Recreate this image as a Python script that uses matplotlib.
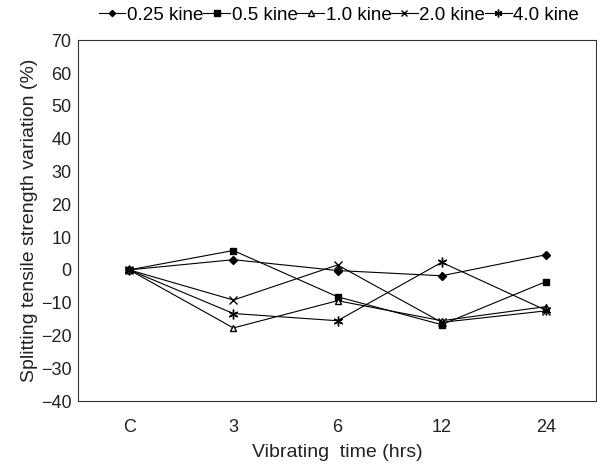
import matplotlib
matplotlib.use("Agg")
import matplotlib.pyplot as plt

plt.rcParams["font.family"] = ["Liberation Sans", "DejaVu Sans"]

# vibrating time categories
categories = ["C", "3", "6", "12", "24"]

# splitting tensile strength variation (%) per vibration level
kine_025 = [0.0, 3.1, -0.2, -1.8, 4.6]
kine_05 = [0.0, 5.9, -8.2, -16.7, -3.6]
kine_10 = [0.0, -17.7, -9.4, -15.5, -11.2]
kine_20 = [0.0, -9.2, 1.5, -16.0, -12.5]
kine_40 = [0.0, -13.3, -15.5, 2.3, -12.3]

labels = ["0.25 kine", "0.5 kine", "1.0 kine", "2.0 kine", "4.0 kine"]

fig = plt.figure(figsize=(5.97, 4.73), dpi=100)
ax = fig.add_axes([0.131, 0.152, 0.867, 0.763])

x = list(range(len(categories)))
styles = [
    dict(marker="D", ms=4, mfc="black"),
    dict(marker="s", ms=5, mfc="black"),
    dict(marker="^", ms=5, mfc="white"),
    dict(marker="x", ms=6, mew=1.0),
    dict(marker=(6, 2, 0), ms=7, mew=1.0),
]
series = [kine_025, kine_05, kine_10, kine_20, kine_40]
handles = []
for vals, lab, st in zip(series, labels, styles):
    h, = ax.plot(x, vals, color="black", lw=0.8, mec="black", label=lab, **st)
    handles.append(h)

ax.set_xlim(-0.49, 4.48)
ax.set_ylim(-40, 70)
ax.set_yticks(range(-40, 71, 10))
ax.set_xticks(x)
ax.set_xticklabels(categories)
ax.tick_params(length=0, labelsize=13, colors="#222222")
ax.tick_params(axis="x", pad=13)
ax.tick_params(axis="y", pad=5)
for s in ax.spines.values():
    s.set_linewidth(0.8)
    s.set_color("#333333")

ax.set_xlabel("Vibrating  time (hrs)", fontsize=14, labelpad=6, color="#222222")
ax.set_ylabel("Splitting tensile strength variation (%)", fontsize=14,
              labelpad=2, color="#222222")

fig.legend(handles=handles, labels=labels, loc="center", ncol=5,
           bbox_to_anchor=(0.568, 0.968), frameon=False, fontsize=13.5,
           handlelength=1.4, handletextpad=0.1, columnspacing=0.0,
           borderpad=0, markerscale=0.8)

fig.savefig("out.png", dpi=100)
